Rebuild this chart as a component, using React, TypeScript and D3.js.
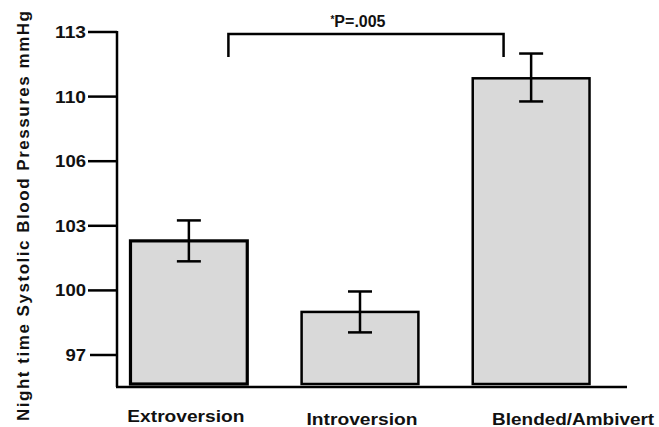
import * as d3 from "d3";
import React from "react";

// chart data
const categories = ["Extroversion", "Introversion", "Blended/Ambivert"];
const means = [102.3, 99.0, 110.85];
const errors = [0.95, 0.95, 1.15];
const yTicks = [97, 100, 103, 106, 110, 113];
const pLabel = "P=.005";
const yTitle = "Night time Systolic  Blood Pressures mmHg";

const W = 659;
const H = 427;
const axisX = 117;
const baseY = 387;
const tickStep = 64.6;
const y0 = 355;

// label nudges, as in the original layout
const labelShift = [-3, 2, 42];
const labelWidth = [117, 111, 162];

const App: React.FC = () => {
  // evenly spaced ticks even though the labels are not -> piecewise linear scale
  const y = d3.scaleLinear(yTicks, yTicks.map((_, i) => y0 - i * tickStep));
  const x = d3.scaleBand(categories, [axisX, 603]).paddingInner(0.3).paddingOuter(0.07);
  const bw = x.bandwidth();

  const left = x(categories[0])! + bw * 0.83;
  const right = x(categories[2])! + bw * 0.27;
  const bracketY = 34;

  const font = "'Liberation Sans', Arial, sans-serif";

  return (
    <svg width={W} height={H} style={{ position: "absolute", left: 0, top: 0, background: "#fff" }} fontFamily={font}>
      {/* bars */}
      {categories.map((c, i) => (
        <rect key={c} x={x(c)! + 1.5} y={y(means[i])} width={bw - 3} height={baseY - 3 - y(means[i])}
          fill="#d9d9d9" stroke="#000" strokeWidth={i === 0 ? 3.2 : 2.5} />
      ))}
      {/* error bars */}
      {categories.map((c, i) => {
        const cx = x(c)! + bw / 2;
        const hi = y(means[i] + errors[i]);
        const lo = y(means[i] - errors[i]);
        return (
          <g key={c} stroke="#000" strokeWidth={2.5}>
            <line x1={cx} x2={cx} y1={hi} y2={lo} />
            <line x1={cx - 12} x2={cx + 12} y1={hi} y2={hi} />
            <line x1={cx - 12} x2={cx + 12} y1={lo} y2={lo} />
          </g>
        );
      })}
      {/* axes */}
      <line x1={axisX} x2={axisX} y1={y(113) - 1} y2={baseY} stroke="#000" strokeWidth={2.5} />
      <line x1={axisX - 1} x2={627} y1={baseY} y2={baseY} stroke="#000" strokeWidth={2.5} />
      {yTicks.map((t) => (
        <g key={t}>
          <line x1={t === 97 ? 90 : 88} x2={axisX} y1={y(t)} y2={y(t)} stroke="#000" strokeWidth={2.5} />
          <text x={86} y={y(t)} dy="0.36em" textAnchor="end" fontSize={16.5} fontWeight="bold" fill="#111"
            textLength={String(t).length * 10.3} lengthAdjust="spacingAndGlyphs">{t}</text>
        </g>
      ))}
      {categories.map((c, i) => (
        <text key={c} x={x(c)! + bw / 2 + labelShift[i]} y={i === 0 ? 422 : 425} textAnchor="middle"
          fontSize={16.5} fontWeight="bold" fill="#111" textLength={labelWidth[i]} lengthAdjust="spacingAndGlyphs">{c}</text>
      ))}
      <text transform={`translate(29,216) rotate(-90)`} textAnchor="middle" fontSize={17} fontWeight="bold" fill="#111"
        textLength={410}>{yTitle}</text>
      {/* significance bracket */}
      <path d={`M${left},${bracketY + 23}V${bracketY}H${right}V${bracketY + 23}`} fill="none" stroke="#000" strokeWidth={2.5} />
      <text x={(left + right) / 2 - 8} y={27} textAnchor="middle" fontSize={16} fontWeight="bold" fill="#111">
        <tspan fontSize={10} dy="-4">*</tspan><tspan dy="4">{pLabel}</tspan>
      </text>
    </svg>
  );
};

export default App;
